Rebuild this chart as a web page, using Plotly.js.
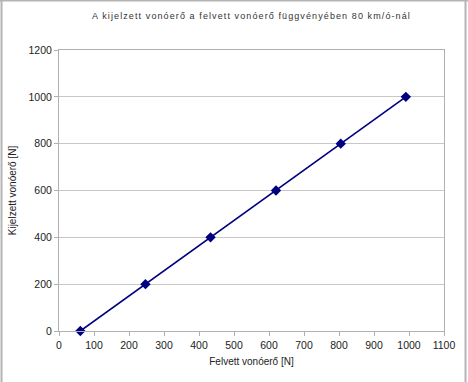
<!DOCTYPE html>
<html>
<head>
<meta charset="utf-8">
<script src="https://cdn.plot.ly/plotly-3.0.1.min.js"></script>
<style>
html,body{margin:0;padding:0;background:#fff;}
#chart{width:468px;height:382px;}
#chart .gtitle{letter-spacing:1.1px;}
</style>
</head>
<body>
<div id="chart"></div>
<script>
const chartTitle = "A kijelzett vonóerő a felvett vonóerő függvényében 80 km/ó-nál";
const xTitle = "Felvett vonóerő [N]";
const yTitle = "Kijelzett vonóerő [N]";
const felvett = [61, 247, 433, 620, 805, 991];
const kijelzett = [0, 200, 400, 600, 800, 1000];

const L = 59, R = 444, T = 50, B = 331;
const W = 468, H = 382;
const px = x => (x - L) / (R - L);
const py = y => (B - y) / (B - T);
const frameColor = "#b4b4b4";

const trace = {
  x: felvett, y: kijelzett, type: "scatter", mode: "lines+markers",
  line: {color: "#000080", width: 1.6},
  marker: {symbol: "diamond", size: 8, color: "#000080"},
  cliponaxis: false, showlegend: false, hoverinfo: "none"
};

const layout = {
  width: W, height: H,
  margin: {l: L, r: W - R, t: T, b: H - B, pad: 0},
  paper_bgcolor: "#fff", plot_bgcolor: "#fff",
  font: {family: "Liberation Sans, Arial, sans-serif", color: "#000", size: 10.5},
  title: {text: chartTitle, x: 0.5, xref: "paper", y: 1 - 16/H, yanchor: "middle",
          font: {size: 9, color: "#333", family: "Liberation Sans, Arial, sans-serif"}},
  xaxis: {
    range: [0, 1100], dtick: 100, tick0: 0, showgrid: false, zeroline: false,
    showline: true, linecolor: "#b0b0b0", linewidth: 1, mirror: true,
    ticks: "outside", ticklen: 4, tickcolor: "#b0b0b0",
    tickfont: {size: 10.5, color: "#222"},
    title: {text: xTitle, standoff: 8, font: {size: 10, color: "#222"}}
  },
  yaxis: {
    range: [0, 1200], dtick: 200, tick0: 0, showgrid: true, gridcolor: "#c8c8c8", gridwidth: 1,
    zeroline: false, showline: true, linecolor: "#b0b0b0", linewidth: 1, mirror: true,
    ticks: "outside", ticklen: 4, tickcolor: "#b0b0b0",
    tickfont: {size: 10.5, color: "#222"},
    title: {text: yTitle, standoff: 10, font: {size: 10, color: "#222"}}
  },
  shapes: [
    {type: "line", xref: "paper", yref: "paper", x0: px(1.5), x1: px(1.5), y0: py(0), y1: py(382), line: {color: frameColor, width: 2}},
    {type: "line", xref: "paper", yref: "paper", x0: px(0), x1: px(468), y0: py(0.5), y1: py(0.5), line: {color: frameColor, width: 2}},
    {type: "line", xref: "paper", yref: "paper", x0: px(465.5), x1: px(465.5), y0: py(0), y1: py(382), line: {color: frameColor, width: 2}}
  ]
};

Plotly.newPlot("chart", [trace], layout, {displayModeBar: false, staticPlot: true});
</script>
</body>
</html>
